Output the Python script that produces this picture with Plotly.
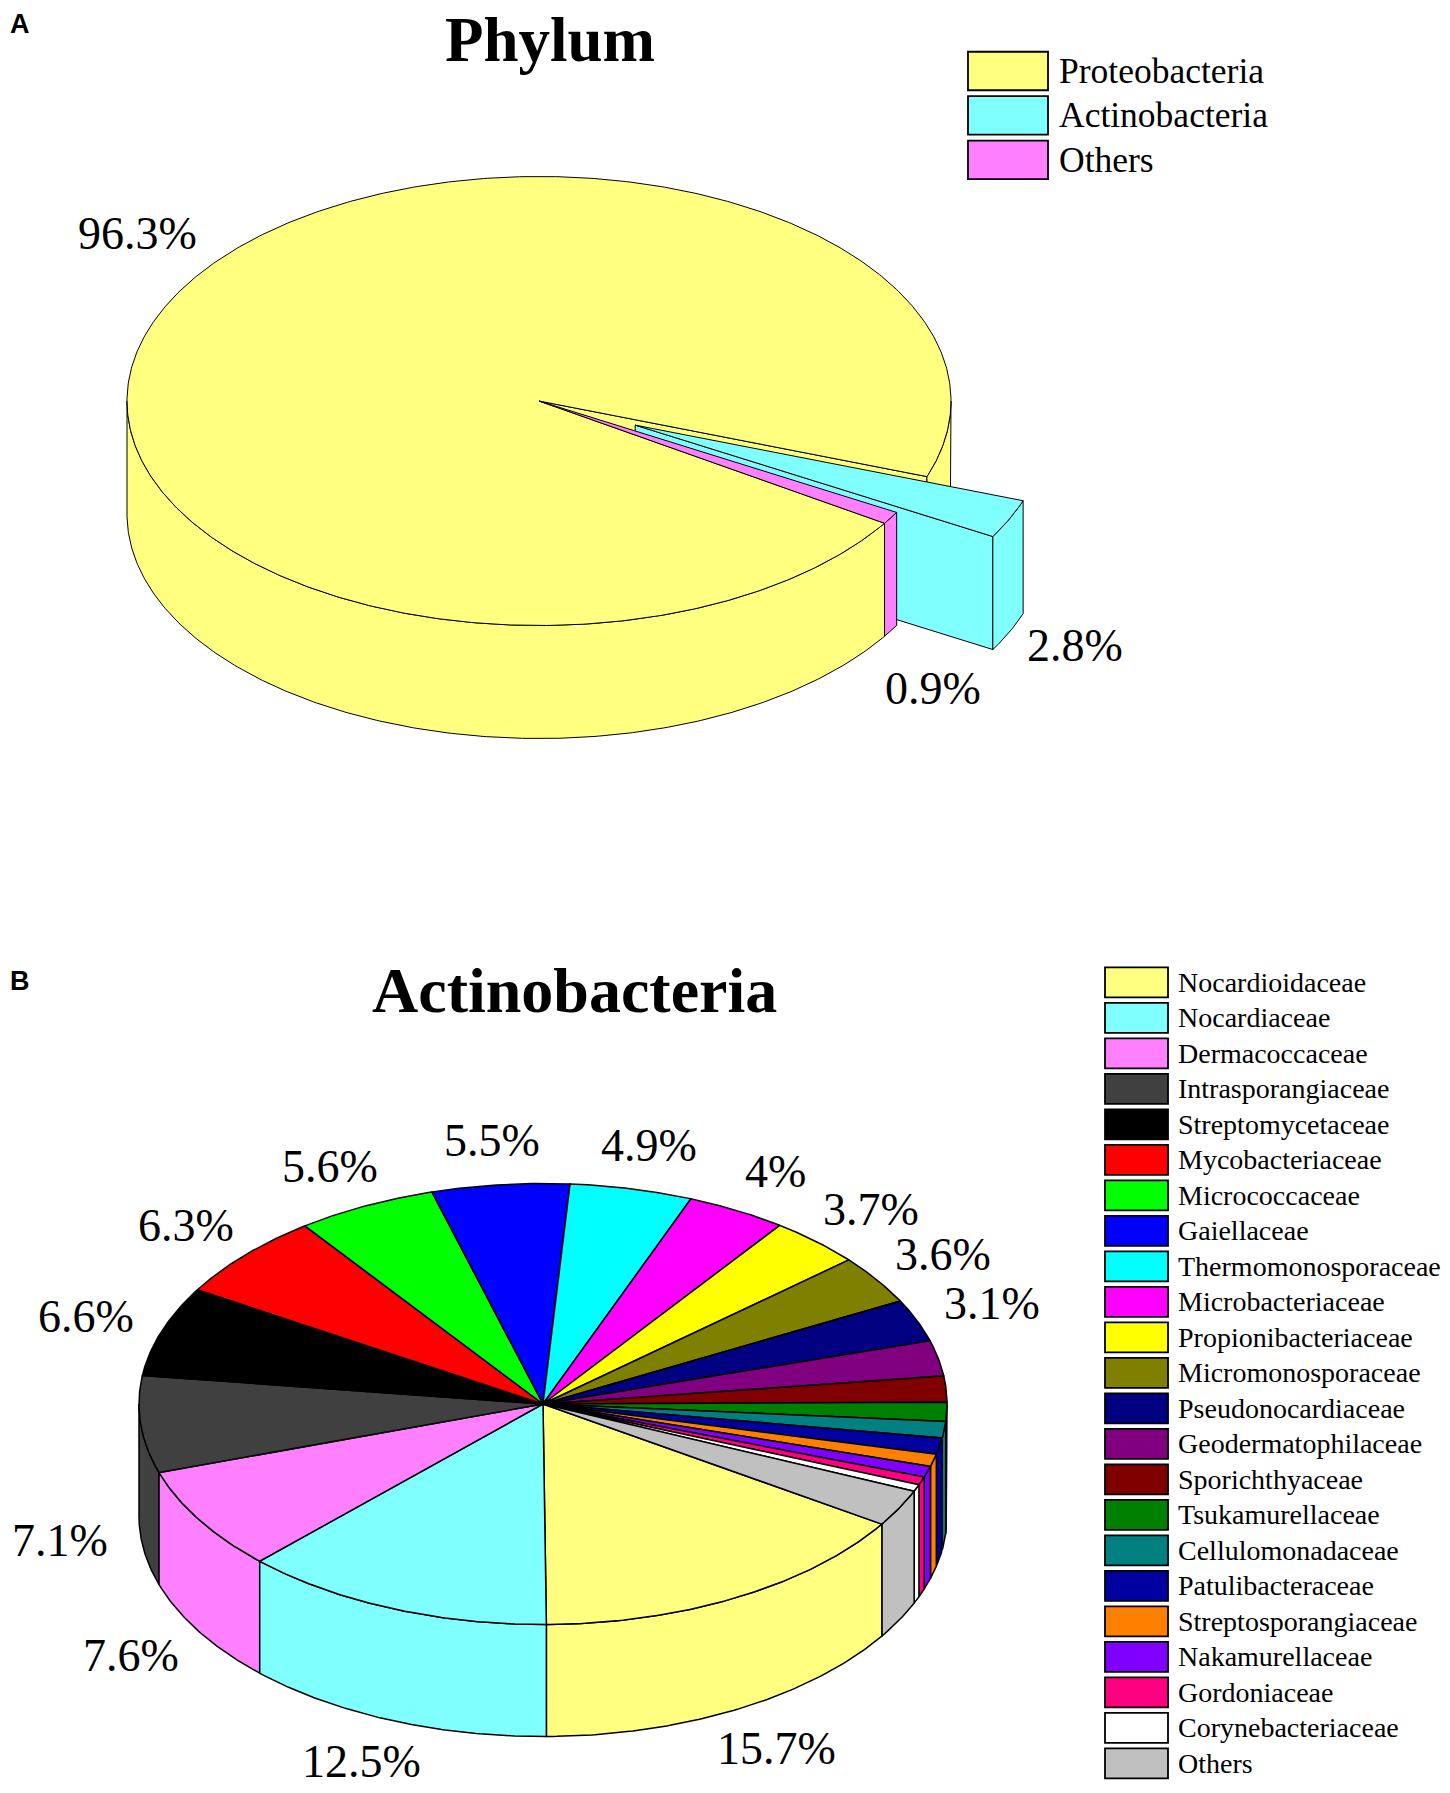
import numpy as np
import plotly.graph_objects as go

# ---- data ----
phylum_names = ["Proteobacteria", "Actinobacteria", "Others"]
phylum_values = [96.3, 2.8, 0.9]
phylum_labels = ["96.3%", "2.8%", "0.9%"]

family_names = [
    "Nocardioidaceae", "Nocardiaceae", "Dermacoccaceae", "Intrasporangiaceae",
    "Streptomycetaceae", "Mycobacteriaceae", "Micrococcaceae", "Gaiellaceae",
    "Thermomonosporaceae", "Microbacteriaceae", "Propionibacteriaceae",
    "Micromonosporaceae", "Pseudonocardiaceae", "Geodermatophilaceae",
    "Sporichthyaceae", "Tsukamurellaceae", "Cellulomonadaceae",
    "Patulibacteraceae", "Streptosporangiaceae", "Nakamurellaceae",
    "Gordoniaceae", "Corynebacteriaceae", "Others",
]
family_values = [15.7, 12.5, 7.6, 7.1, 6.6, 6.3, 5.6, 5.5, 4.9, 4.0, 3.7, 3.6,
                 3.1, 2.6, 1.9, 1.4, 1.2, 1.2, 0.9, 0.8, 0.6, 0.5, 2.7]
family_labels = ["15.7%", "12.5%", "7.6%", "7.1%", "6.6%", "6.3%", "5.6%",
                 "5.5%", "4.9%", "4%", "3.7%", "3.6%", "3.1%"] + [""] * 10

# ---- styles ----
phylum_colors = ["#FFFF80", "#80FFFF", "#FF80FF"]
phylum_pull = [0, 0.257, 0]
family_colors = [
    "#FFFF80", "#80FFFF", "#FF80FF", "#404040", "#000000", "#FF0000",
    "#00FF00", "#0000FF", "#00FFFF", "#FF00FF", "#FFFF00", "#808000",
    "#000080", "#800080", "#800000", "#008000", "#008080", "#0000A0",
    "#FF8000", "#8000FF", "#FF0080", "#FFFFFF", "#C0C0C0",
]

W, H = 1450, 1793
PAGE_PAD = 8  # browser body margin, shifted out through the axis ranges
SERIF = "Liberation Serif, Times New Roman, serif"

pie_a = dict(cx=539, cy=401, rx=412, ry=224.5, depth=113, start=-33, lw=1.0)
pie_b = dict(cx=543, cy=1404, rx=404, ry=220.5, depth=112, start=-33, lw=1.5)

fig = go.Figure()


def rim(p, t, dx=0.0, dy=0.0, down=0.0):
    r = np.radians(t)
    return p["cx"] + p["rx"] * np.cos(r) + dx, p["cy"] - p["ry"] * np.sin(r) + dy + down


def arc(p, t1, t2, dx=0.0, dy=0.0, down=0.0):
    n = max(int(abs(t2 - t1) * 2) + 2, 3)
    return rim(p, np.linspace(t1, t2, n), dx, dy, down)


def poly(xs, ys, color, lw):
    fig.add_trace(go.Scatter(
        x=list(xs) + [xs[0]], y=list(ys) + [ys[0]], mode="lines",
        fill="toself", fillcolor=color, line=dict(color="black", width=lw),
        hoverinfo="skip", showlegend=False))


def draw_pie(p, values, colors, pull=None, labels=None, nudge=None):
    total = float(sum(values))
    pull = pull or [0] * len(values)
    cum = np.concatenate([[0], np.cumsum(values)]) / total * 360
    slices = []
    for i, v in enumerate(values):
        hi = p["start"] - cum[i]
        lo = p["start"] - cum[i + 1]
        mid = np.radians((lo + hi) / 2)
        dx = pull[i] * p["rx"] * np.cos(mid)
        dy = -pull[i] * p["ry"] * np.sin(mid)
        slices.append((lo, hi, dx, dy))

    d = p["depth"]
    sides = []
    for i, (lo, hi, dx, dy) in enumerate(slices):
        # outer wall, only the front half is seen
        for k in range(-2, 2):
            a = max(lo, -180 + 360 * k)
            b = min(hi, 360 * k)
            if b > a:
                xt, yt = arc(p, a, b, dx, dy)
                xb, yb = arc(p, b, a, dx, dy, d)
                key = rim(p, (a + b) / 2, dx, dy)[1]
                sides.append((key, np.concatenate([xt, xb]), np.concatenate([yt, yb]), colors[i]))
        # cut faces next to a pulled slice
        n = len(values)
        for edge, nb, sign in ((lo, (i + 1) % n, 1), (hi, (i - 1) % n, -1)):
            if not (pull[i] or pull[nb]):
                continue
            c = np.cos(np.radians(edge))
            if sign * c <= 0:
                continue
            ex, ey = rim(p, edge, dx, dy)
            ox, oy = p["cx"] + dx, p["cy"] + dy
            key = (ey + oy) / 2
            sides.append((key, [ox, ex, ex, ox], [oy, ey, ey + d, oy + d], colors[i]))

    for key, xs, ys, col in sorted(sides, key=lambda s: s[0]):
        poly(xs, ys, col, p["lw"])

    order = sorted(range(len(values)), key=lambda j: pull[j])
    for i in order:
        lo, hi, dx, dy = slices[i]
        xa, ya = arc(p, lo, hi, dx, dy)
        ox, oy = p["cx"] + dx, p["cy"] + dy
        poly(np.concatenate([[ox], xa]), np.concatenate([[oy], ya]), colors[i], p["lw"])

    if labels:
        for i, lab in enumerate(labels):
            if not lab:
                continue
            lo, hi, dx, dy = slices[i]
            r = np.radians((lo + hi) / 2)
            lx = p["cx"] + 1.2 * p["rx"] * np.cos(r) + dx
            ly = p["cy"] - 1.2 * p["ry"] * np.sin(r) + dy + (d if np.sin(r) < 0 else 0)
            if nudge and i in nudge:
                lx += nudge[i][0]
                ly += nudge[i][1]
            fig.add_annotation(x=lx, y=ly, text=lab, showarrow=False,
                               xanchor="center", yanchor="middle",
                               font=dict(family=SERIF, size=46, color="black"))


def draw_legend(names, colors, x0, x1, y0, step, h, tx, size):
    for i, (nm, col) in enumerate(zip(names, colors)):
        yc = y0 + step * i
        fig.add_shape(type="rect", x0=x0, x1=x1, y0=yc - h / 2, y1=yc + h / 2,
                      fillcolor=col, line=dict(color="black", width=1.8))
        fig.add_annotation(x=tx, y=yc, text=nm, showarrow=False,
                           xanchor="left", yanchor="middle",
                           font=dict(family=SERIF, size=size, color="black"))


draw_pie(pie_a, phylum_values, phylum_colors, pull=phylum_pull,
         labels=phylum_labels, nudge={0: (42, -48), 1: (-9, -5), 2: (-28, 34)})
draw_pie(pie_b, family_values, family_colors, labels=family_labels)

draw_legend(phylum_names, phylum_colors, 968, 1048, 71, 44.4, 38.5, 1057, 35.5)
draw_legend(family_names, family_colors, 1105, 1168, 982.3, 35.5, 30, 1176, 28)

fig.add_annotation(x=550, y=40, text="<b>Phylum</b>", showarrow=False,
                   font=dict(family=SERIF, size=63, color="black"))
fig.add_annotation(x=574, y=990, text="<b>Actinobacteria</b>", showarrow=False,
                   font=dict(family=SERIF, size=64, color="black"))
fig.add_annotation(x=8, y=24, text="<b>A</b>", showarrow=False, xanchor="left",
                   font=dict(family="Liberation Sans, Arial", size=27, color="black"))
fig.add_annotation(x=8, y=981, text="<b>B</b>", showarrow=False, xanchor="left",
                   font=dict(family="Liberation Sans, Arial", size=27, color="black"))

fig.update_xaxes(range=[PAGE_PAD, W + PAGE_PAD], visible=False, fixedrange=True)
fig.update_yaxes(range=[H + PAGE_PAD, PAGE_PAD], visible=False, fixedrange=True)
fig.update_layout(width=W, height=H, margin=dict(l=0, r=0, t=0, b=0),
                  plot_bgcolor="white", paper_bgcolor="white", showlegend=False)

fig.write_html("out.html")
